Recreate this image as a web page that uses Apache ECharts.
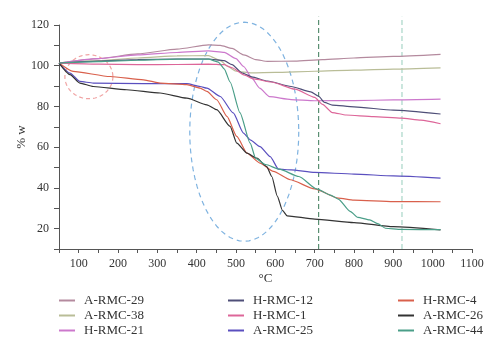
<!DOCTYPE html>
<html>
<head>
<meta charset="utf-8">
<script src="https://cdn.jsdelivr.net/npm/echarts@6/dist/echarts.min.js"></script>
<style>
html,body{margin:0;padding:0;background:#fff;}
#main{width:500px;height:351px;}
</style>
</head>
<body>
<div id="main"></div>
<script>
// TG curves, [temperature °C, weight %]
var aRmc29 = [[50,101.3],[150,103.5],[250,105.8],[350,108.2],[430,110.2],[460,110],[490,108.5],[520,105.3],[550,103],[580,102.1],[650,102.3],[720,103],[800,103.8],[900,104.6],[1020,105.6]];
var aRmc38 = [[50,101.3],[150,102.5],[250,103.8],[350,104.8],[430,105],[460,102.5],[480,99.5],[500,97.3],[540,96.5],[600,96.7],[700,97.3],[800,97.8],[900,98.3],[1020,98.9]];
var hRmc21 = [[50,101.3],[150,103.5],[250,105.3],[350,106.5],[430,107.3],[470,106.6],[500,103.5],[520,99.5],[540,94],[560,89],[585,84.8],[640,83.4],[700,82.8],[800,82.9],[900,83.2],[1020,83.6]];
var hRmc12 = [[50,101.3],[150,102.3],[250,103],[350,103.3],[430,103.3],[470,102.5],[490,100.5],[515,96.5],[540,94.5],[580,92.5],[640,89.8],[690,87.2],[710,85],[725,82],[745,80.7],[800,79.8],[900,78.2],[1020,76.3]];
var hRmc1 = [[50,101.3],[150,100.8],[250,100.5],[350,100.6],[430,100.8],[470,100.5],[490,99],[520,95.5],[545,93.5],[590,92],[650,88.5],[700,84.5],[720,81],[745,77],[780,75.8],[850,75],[920,74.3],[970,73.3],[1020,71.5]];
var aRmc25 = [[50,101.3],[78,96.4],[103,92.3],[137,91.5],[265,91.2],[375,91.2],[409,89.8],[426,89],[460,84.9],[493,76.8],[519,66.9],[536,63.6],[561,60.3],[587,55.4],[608,49.2],[640,48.9],[700,47.6],[800,46.8],[900,45.9],[1020,44.8]];
var hRmc4 = [[50,101.3],[86,97.2],[180,94.7],[265,93.1],[307,91.5],[375,90.7],[409,89],[426,87.4],[451,83.3],[477,75.1],[502,65.3],[528,57.1],[561,52.2],[595,48.1],[638,44],[700,39.5],[760,35],[800,34],[900,33.3],[1020,33.2]];
var aRmc26 = [[50,101.3],[78,95.6],[103,91.5],[137,89.8],[222,88.2],[307,86.6],[375,84.1],[426,80.8],[451,78.4],[485,70.2],[502,62],[528,57.1],[553,54.6],[578,50.5],[591,45.6],[605,36],[618,29],[630,26.3],[700,24.7],[800,23],[900,21],[1020,19.4]];
var aRmc44 = [[50,101.3],[150,102],[250,102.7],[350,103.2],[430,103.2],[455,101.8],[470,98.5],[485,92],[510,77],[536,62],[550,54.5],[575,51.5],[610,49.2],[660,45.6],[705,39.5],[740,36.5],[760,34.5],[790,28.5],[810,25.5],[840,24.3],[860,22.5],[880,20.2],[920,19.6],[1020,19.5]];

var seriesNames = ['A-RMC-29','A-RMC-38','H-RMC-21','H-RMC-12','H-RMC-1','A-RMC-25','H-RMC-4','A-RMC-26','A-RMC-44'];
var seriesData = [aRmc29, aRmc38, hRmc21, hRmc12, hRmc1, aRmc25, hRmc4, aRmc26, aRmc44];
var seriesColors = ['#b48a9e','#b9bd97','#cc78cc','#4f4f78','#dd6699','#5a4fbf','#d9604c','#333333','#4a9e88'];

var legendCols = [
    ['A-RMC-29','A-RMC-38','H-RMC-21'],
    ['H-RMC-12','H-RMC-1','A-RMC-25'],
    ['H-RMC-4','A-RMC-26','A-RMC-44']
];
var guideTemps = [710, 922];   // dashed vertical markers
var guideColors = ['#5a8f72', '#a9d6c8'];

var FONT = 'Liberation Serif';

var chart = echarts.init(document.getElementById('main'));

var series = [];
function each(arr, fn) { for (var i = 0; i < arr.length; i++) fn(i, arr[i]); }
each(seriesNames, function (i, name) {
    series.push({
        name: name,
        type: 'line',
        data: seriesData[i],
        smooth: 0.2,
        smoothMonotone: 'x',
        symbol: 'none',
        color: seriesColors[i],
        lineStyle: {width: 1.2},
        z: 3
    });
});

var legends = [];
var legendLeft = [59, 228, 398];
each(legendCols, function (i, col) {
    legends.push({
        orient: 'vertical',
        left: legendLeft[i],
        top: 294,
        padding: 0,
        itemWidth: 16,
        itemHeight: 2,
        itemGap: 2,
        icon: 'rect',
        textStyle: {fontFamily: FONT, fontSize: 13, color: '#333', padding: [0, 0, 0, 4]},
        data: col
    });
});

var option = {
    animation: false,
    backgroundColor: '#fff',
    grid: {left: 59, right: 28, top: 25, bottom: 102},
    legend: legends,
    xAxis: {
        type: 'value',
        min: 50,
        max: 1100,
        interval: 50,
        name: '°C',
        nameLocation: 'middle',
        nameGap: 23,
        nameMoveOverlap: false,
        nameTextStyle: {fontFamily: FONT, fontSize: 13, color: '#333'},
        axisLine: {lineStyle: {color: '#555', width: 1}},
        axisTick: {length: 4, lineStyle: {color: '#555'}},
        axisLabel: {
            fontFamily: FONT, fontSize: 12, color: '#333', margin: 9,
            formatter: function (v) { return v % 100 === 0 ? v : ''; }
        },
        splitLine: {show: false}
    },
    yAxis: {
        type: 'value',
        min: 10,
        max: 120,
        interval: 10,
        name: '% w',
        nameLocation: 'middle',
        nameGap: 31,
        nameMoveOverlap: false,
        nameRotate: 90,
        nameTextStyle: {fontFamily: FONT, fontSize: 13, color: '#333'},
        axisLine: {show: true, lineStyle: {color: '#555', width: 1}},
        axisTick: {show: true, length: 5, lineStyle: {color: '#555'}},
        axisLabel: {
            fontFamily: FONT, fontSize: 12, color: '#333', margin: 10,
            formatter: function (v) { return v % 20 === 0 ? v : ''; }
        },
        splitLine: {show: false}
    },
    series: series
};
chart.setOption(option);

// dashed ellipses + vertical guides (annotation layer)
function ellipsePts(cx, cy, rx, ry) {
    var pts = [];
    for (var k = 0; k <= 72; k++) {
        var a = k / 72 * Math.PI * 2;
        pts.push([cx + rx * Math.cos(a), cy + ry * Math.sin(a)]);
    }
    return pts;
}
var c1 = chart.convertToPixel({gridIndex: 0}, [126, 94.6]);
var c2 = chart.convertToPixel({gridIndex: 0}, [521, 67.6]);
var graphics = [
    {type: 'polyline', silent: true, z: 1,
     shape: {points: ellipsePts(c1[0], c1[1], 24, 22)},
     style: {stroke: '#f0a3a3', lineWidth: 1.2, lineDash: [4, 3], fill: null}},
    {type: 'polyline', silent: true, z: 1,
     shape: {points: ellipsePts(c2[0], c2[1], 54.5, 109.5)},
     style: {stroke: '#7fb3e0', lineWidth: 1.2, lineDash: [5, 4], fill: null}}
];
each(guideTemps, function (i, t) {
    var lo = chart.convertToPixel({gridIndex: 0}, [t, 10]);
    var hi = chart.convertToPixel({gridIndex: 0}, [t, 124]);
    graphics.push({type: 'line', silent: true, z: 1,
        shape: {x1: lo[0], y1: lo[1], x2: hi[0], y2: hi[1]},
        style: {stroke: guideColors[i], lineWidth: 1.2, lineDash: [5, 3]}});
});
chart.setOption({graphic: graphics});
</script>
</body>
</html>
